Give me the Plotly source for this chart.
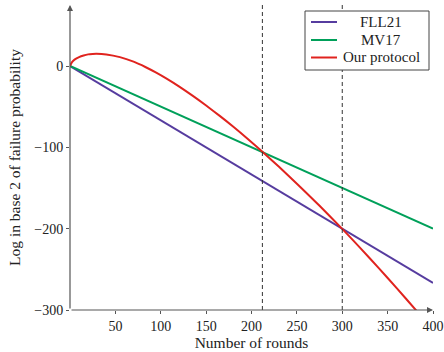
import plotly.graph_objects as go

# ---- data ----
rounds_linear = [0, 400]
fll21 = [0, -266.7]
mv17 = [0, -200]

rounds_ours = [0, 2, 5, 10, 15, 20, 25, 29, 40, 55, 70, 83, 95, 106, 120, 135, 150,
               165, 180, 195, 212, 230, 250, 275, 300, 320, 340, 360, 381, 400]
ours = [0, 4.5, 7.8, 11, 13, 14.3, 14.8, 15, 14.2, 10.9, 5.3, -1.2, -8.2, -15.3,
        -25.1, -36.5, -48.6, -61.3, -74.7, -88.8, -105.5, -123.7, -144.7, -171.9,
        -200.3, -223.9, -248.2, -273.1, -299.9, -324.7]

crossover_rounds = [212, 300]
x_ticks = [50, 100, 150, 200, 250, 300, 350, 400]
y_ticks = [-300, -200, -100, 0]

names = ["FLL21", "MV17", "Our protocol"]
colors = ["#563c9f", "#00a05a", "#e0231e"]

FONT = "Liberation Serif"
W, H = 444, 352
ML, MR, MT, MB = 70, 11, 5, 42
PW, PH = W - ML - MR, H - MT - MB


def px_x(p):
    return (p - ML) / PW


def px_y(p):
    return (H - MB - p) / PH


fig = go.Figure()
series_x = [rounds_linear, rounds_linear, rounds_ours]
series_y = [fll21, mv17, ours]
for i in range(3):
    fig.add_trace(go.Scatter(x=series_x[i], y=series_y[i], mode="lines",
                             name=names[i], showlegend=False,
                             line_shape="spline" if i == 2 else "linear",
                             line=dict(color=colors[i], width=2,
                                       smoothing=0.6 if i == 2 else None)))

for xr in crossover_rounds:
    fig.add_shape(type="line", xref="x", yref="paper", x0=xr, x1=xr, y0=0, y1=1,
                  line=dict(color="#333333", width=1, dash="4px,3px"))

# axis arrows
fig.add_annotation(x=400, y=-300, ax=0, ay=-300, xref="x", yref="y",
                   axref="x", ayref="y", text="", showarrow=True,
                   arrowhead=2, arrowsize=1, arrowwidth=1.2, arrowcolor="#555555")
fig.add_annotation(x=0, y=75, ax=0, ay=-300, xref="x", yref="y",
                   axref="x", ayref="y", text="", showarrow=True,
                   arrowhead=2, arrowsize=1, arrowwidth=1.2, arrowcolor="#555555")

# legend box drawn manually
fig.add_shape(type="rect", xref="paper", yref="paper",
              x0=px_x(305), x1=px_x(429), y0=px_y(70), y1=px_y(11),
              line=dict(color="#444444", width=1), fillcolor="white", layer="above")
row_y = [22, 40, 57.5]
for i in range(3):
    fig.add_shape(type="line", xref="paper", yref="paper",
                  x0=px_x(311), x1=px_x(337), y0=px_y(row_y[i]), y1=px_y(row_y[i]),
                  line=dict(color=colors[i], width=2), layer="above")
    fig.add_annotation(xref="paper", yref="paper", x=px_x(381), y=px_y(row_y[i]),
                       text=names[i], showarrow=False, xanchor="center",
                       yanchor="middle",
                       font=dict(family=FONT, size=15, color="#222222"))

fig.update_layout(
    width=W, height=H,
    margin=dict(l=ML, r=MR, t=MT, b=MB, autoexpand=False),
    plot_bgcolor="white", paper_bgcolor="white",
    font=dict(family=FONT, size=14, color="#222222"),
    showlegend=False,
)
fig.update_xaxes(range=[0, 400], tickvals=x_ticks, ticks="outside", ticklen=3,
                 tickcolor="#555555", showgrid=False, zeroline=False,
                 showline=False, ticklabeloverflow="allow", automargin=False,
                 title=dict(text="Number of rounds", standoff=4,
                            font=dict(family=FONT, size=15.5)),
                 tickfont=dict(family=FONT, size=14))
fig.update_yaxes(range=[-300, 75], tickvals=y_ticks, ticks="outside", ticklen=3,
                 tickcolor="#555555", showgrid=False, zeroline=False,
                 showline=False, automargin=False,
                 title=dict(text="Log in base 2 of failure probability", standoff=9,
                            font=dict(family=FONT, size=15.5)),
                 tickfont=dict(family=FONT, size=14))

fig.write_html("out.html")
